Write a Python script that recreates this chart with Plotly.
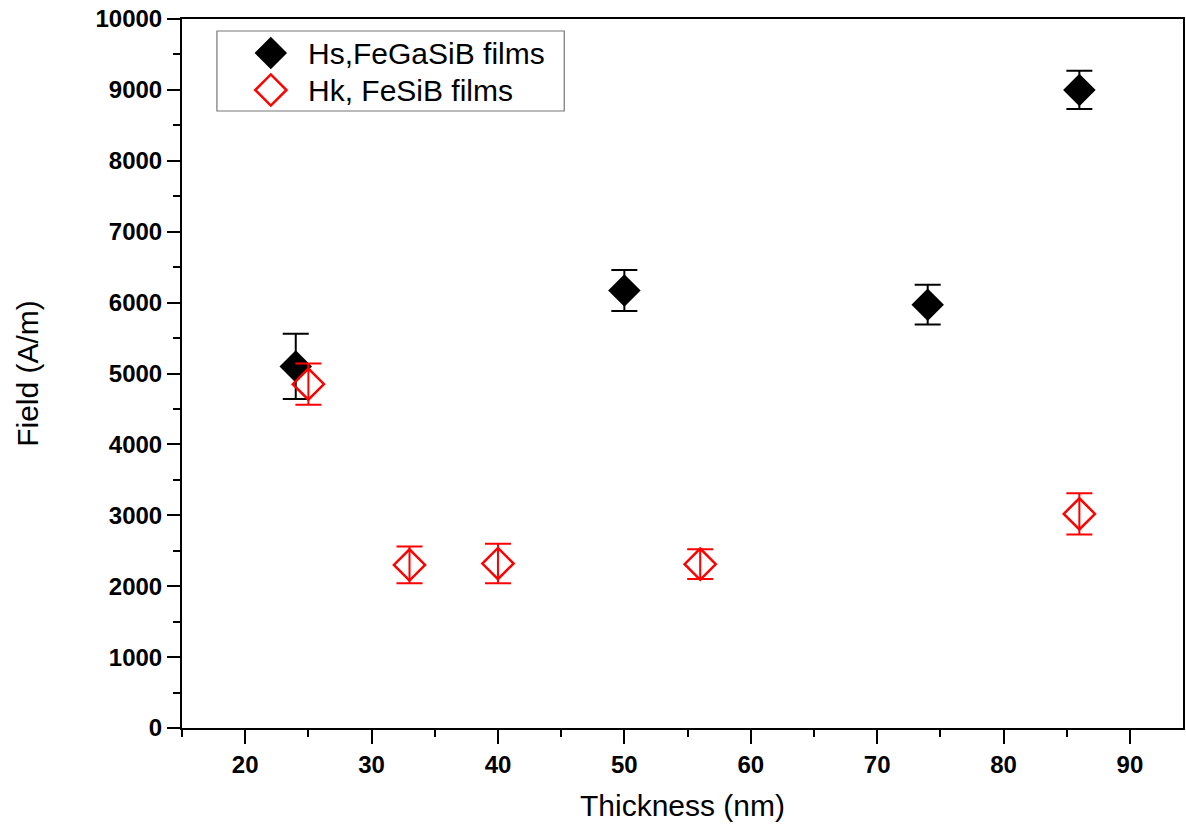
import plotly.graph_objects as go

# Data
hs_thickness = [24, 50, 74, 86]
hs_field = [5100, 6170, 5970, 9000]
hs_err = [460, 290, 280, 270]

hk_thickness = [25, 33, 40, 56, 86]
hk_field = [4850, 2300, 2320, 2310, 3020]
hk_err = [290, 260, 280, 210, 290]

legend_labels = ["Hs,FeGaSiB films", "Hk, FeSiB films"]

FONT = "Liberation Sans, Arial, sans-serif"

fig = go.Figure()

fig.add_trace(go.Scatter(
    x=hs_thickness, y=hs_field, mode="markers",
    marker=dict(symbol="diamond", size=25, color="black", line=dict(width=0)),
    error_y=dict(type="data", array=hs_err, visible=True, color="black", thickness=2, width=13),
    showlegend=False,
))
fig.add_trace(go.Scatter(
    x=hk_thickness, y=hk_field, mode="markers",
    marker=dict(symbol="diamond-open", size=24, color="#ff0000", line=dict(width=2.5, color="#ff0000")),
    error_y=dict(type="data", array=hk_err, visible=True, color="#ff0000", thickness=2, width=13),
    showlegend=False,
))

# Custom legend (overlay axes in pixel units of the plot area)
fig.add_trace(go.Scatter(
    x=[89], y=[34], mode="markers", xaxis="x2", yaxis="y2",
    marker=dict(symbol="diamond", size=25, color="black"), showlegend=False, hoverinfo="skip",
))
fig.add_trace(go.Scatter(
    x=[89], y=[71], mode="markers", xaxis="x2", yaxis="y2",
    marker=dict(symbol="diamond-open", size=24, color="#ff0000", line=dict(width=2.5, color="#ff0000")),
    showlegend=False, hoverinfo="skip",
))

PW, PH = 1003, 709
fig.add_shape(type="rect", xref="x2", yref="y2", x0=35, x1=383, y0=12, y1=92,
              line=dict(color="#777777", width=1.2), fillcolor="rgba(0,0,0,0)")
for lbl, yy in zip(legend_labels, [34, 71]):
    fig.add_annotation(xref="x2", yref="y2", x=124, y=yy, text=lbl, showarrow=False,
                       xanchor="left", yanchor="middle",
                       font=dict(family=FONT, size=30, color="black"))

fig.update_layout(
    width=1186, height=831,
    margin=dict(l=182, r=1, t=19, b=103),
    paper_bgcolor="white", plot_bgcolor="white",
    font=dict(family=FONT, color="black"),
    xaxis=dict(
        range=[15, 94.2], tickvals=[20, 30, 40, 50, 60, 70, 80, 90],
        ticks="outside", ticklen=14, tickwidth=2, tickcolor="black",
        showline=True, linewidth=2, linecolor="black", mirror=True,
        showgrid=False, zeroline=False,
        tickfont=dict(family=FONT, size=24, color="black", weight="bold"),
        minor=dict(ticks="outside", ticklen=7, tickwidth=2, tickcolor="black", dtick=5, showgrid=False),
        title=dict(text="Thickness (nm)", font=dict(family=FONT, size=30, color="black"), standoff=18),
    ),
    yaxis=dict(
        range=[0, 10000], dtick=1000, tickformat="d",
        ticks="outside", ticklen=13, tickwidth=2, tickcolor="black",
        showline=True, linewidth=2, linecolor="black", mirror=True,
        showgrid=False, zeroline=False,
        tickfont=dict(family=FONT, size=24, color="black", weight="bold"),
        minor=dict(ticks="outside", ticklen=7, tickwidth=2, tickcolor="black", dtick=500, showgrid=False),
        title=dict(text="Field (A/m)", font=dict(family=FONT, size=30, color="black"), standoff=48),
    ),
    xaxis2=dict(overlaying="x", range=[0, PW], visible=False, fixedrange=True),
    yaxis2=dict(overlaying="y", range=[PH, 0], visible=False, fixedrange=True),
)

fig.write_html("out.html")
